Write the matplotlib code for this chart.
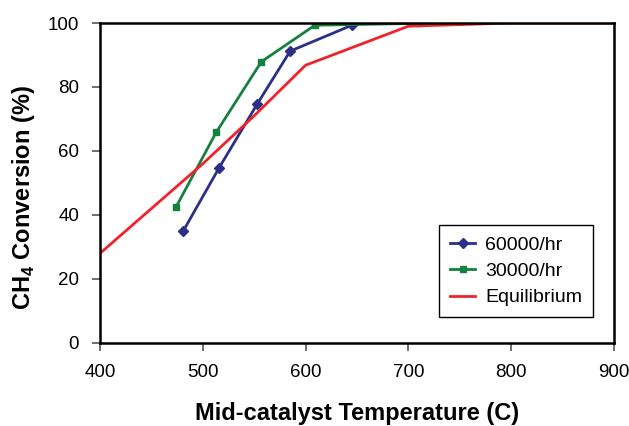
import matplotlib
matplotlib.use("Agg")
import matplotlib.pyplot as plt

# Font setup: Arial-like look
plt.rcParams['font.family'] = ['Liberation Sans', 'DejaVu Sans']
plt.rcParams['mathtext.fontset'] = 'custom'
plt.rcParams['mathtext.rm'] = 'Liberation Sans'
plt.rcParams['mathtext.bf'] = 'Liberation Sans:bold'

# Data
temp_60k = [481, 516, 553, 585, 645]
conv_60k = [35, 54.8, 74.7, 91.2, 99.3]

temp_30k = [474, 513, 557, 609, 710]
conv_30k = [42.5, 65.8, 87.9, 99.3, 99.9]

temp_eq = [400, 450, 500, 550, 600, 700, 800, 900]
conv_eq = [28, 42, 56, 71, 86.8, 99, 100, 100]

x_ticks = [400, 500, 600, 700, 800, 900]
y_ticks = [0, 20, 40, 60, 80, 100]

fig = plt.figure(figsize=(6.29, 4.26), dpi=100)
ax = fig.add_axes([0.159, 0.195, 0.817, 0.751])

ax.plot(temp_60k, conv_60k, color='#2B2F86', lw=2, marker='D', ms=5, label='60000/hr')
ax.plot(temp_30k, conv_30k, color='#14813E', lw=2, marker='s', ms=5, label='30000/hr')
ax.plot(temp_eq, conv_eq, color='#F0222B', lw=2, label='Equilibrium')

ax.set_xlim(400, 900)
ax.set_ylim(0, 100)
ax.set_xticks(x_ticks)
ax.set_yticks(y_ticks)
ax.tick_params(direction='out', length=6, width=1.2, labelsize=13.5, pad=9, color='#555555')

for s in ax.spines.values():
    s.set_linewidth(1.8)
    s.set_color('black')

ax.set_xlabel('Mid-catalyst Temperature (C)', fontsize=17, fontweight='bold')
ax.set_ylabel(r'CH$_{\mathbf{4}}$ Conversion (%)', fontsize=17, fontweight='bold')
ax.xaxis.set_label_coords(0.5, -0.22)
ax.xaxis.label.set_va('center')
ax.yaxis.set_label_coords(-0.148, 0.456)
ax.yaxis.label.set_va('center')

leg = ax.legend(loc='lower right', bbox_to_anchor=(0.959, 0.081), borderaxespad=0,
                fontsize=14, fancybox=False, edgecolor='black', framealpha=1,
                handlelength=1.3, handletextpad=0.5, borderpad=0.55, labelspacing=0.45)
leg.get_frame().set_linewidth(1.0)

fig.savefig('out.png', dpi=100)
